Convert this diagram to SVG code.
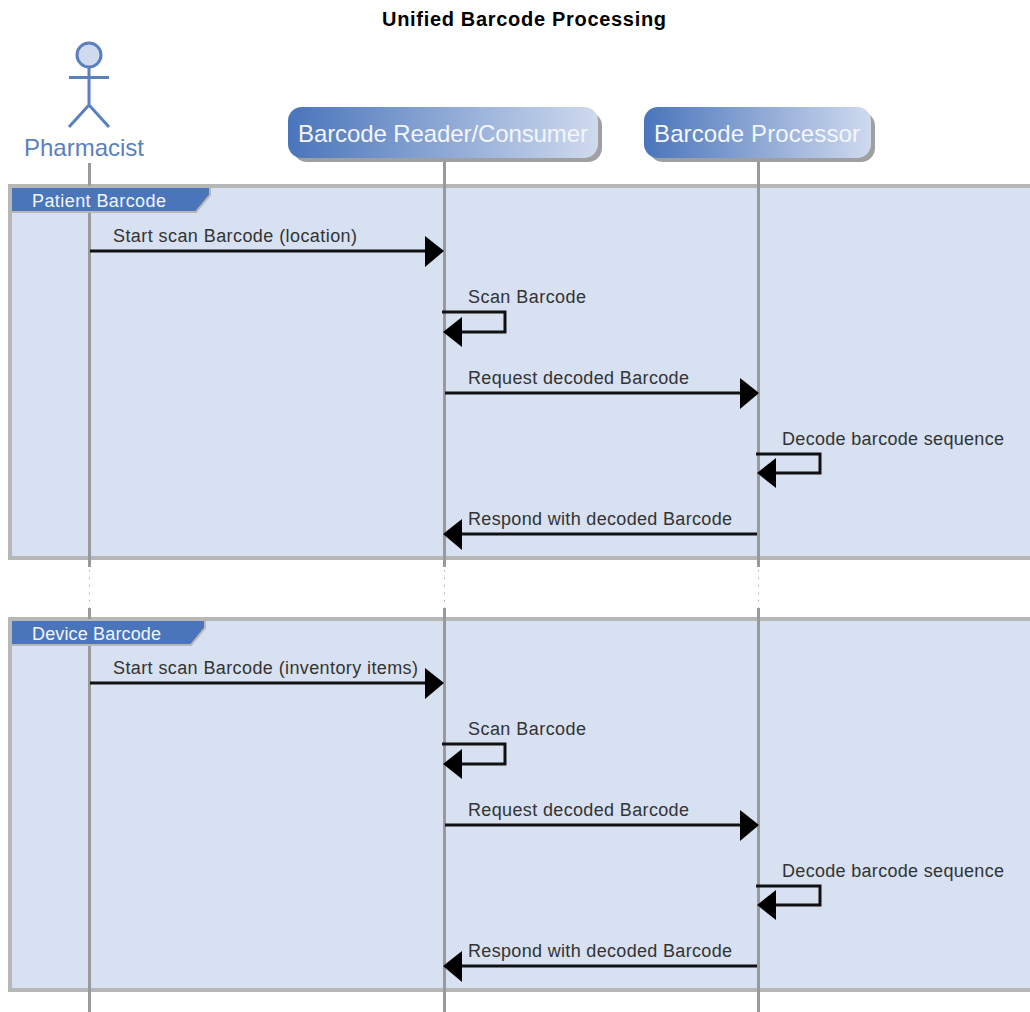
<svg xmlns="http://www.w3.org/2000/svg" width="1030" height="1012" viewBox="0 0 1030 1012">
<style>
text{font-family:"Liberation Sans",Arial,sans-serif}
.t{font-size:18px;fill:#333}
.fl{font-size:18px;fill:#f2f5fb}
.pl{font-size:24px;fill:#f4f6fb}
.frame{fill:#d7e1f1;stroke:#b7b7b7;stroke-width:4}
.tab{fill:#4a75bb}
.tabedge{fill:none;stroke:#b7b7b7;stroke-width:2}
.life{stroke:#9a9a9a;stroke-width:3;fill:none}
.dot{stroke:#aaa;stroke-width:1;stroke-dasharray:1.5 6;fill:none}
.msg{stroke:#111;stroke-width:3;fill:none}
.head{fill:#000}
.shadow{fill:#a0a0a0}
</style>
<defs>
<linearGradient id="g" x1="0" x2="1" y1="0" y2="0"><stop offset="0" stop-color="#4a75bb"/><stop offset="1" stop-color="#cfdaee"/></linearGradient>
</defs>
<rect width="1030" height="1012" fill="#fff"/>
<text x="524" y="26" text-anchor="middle" font-weight="bold" font-size="20" fill="#000" textLength="284" lengthAdjust="spacing">Unified Barcode Processing</text>

<g id="frame-patient">
<rect class="frame" x="10" y="186" width="1030" height="372"/>
<path class="tab" d="M12 188H210V195L196 211H12Z"/>
<path class="tabedge" d="M210 188V195L196 212H12"/>
</g>
<g id="frame-device">
<rect class="frame" x="10" y="619" width="1030" height="371"/>
<path class="tab" d="M12 621H205V628L191 644H12Z"/>
<path class="tabedge" d="M205 621V628L191 645H12"/>
</g>

<g id="lifelines">
<path class="life" d="M89.500 163V186M89.500 213V567M89.500 608V619M89.500 646V1012"/>
<path class="life" d="M444.500 162V567M444.500 608V1012"/>
<path class="life" d="M758.500 162V567M758.500 608V1012"/>
<path class="dot" d="M89.500 570V608M444.500 570V608M758.500 570V608"/>
</g>

<g id="pharmacist">
<circle cx="89" cy="55" r="12" fill="#d0daee" stroke="#5a80c0" stroke-width="3"/>
<path d="M89 67V105M69 77.500H109M69 127L89 105L109 127" fill="none" stroke="#5a80c0" stroke-width="3"/>
<text x="84" y="156" text-anchor="middle" font-size="24" fill="#5a80c0" textLength="120" lengthAdjust="spacing">Pharmacist</text>
</g>
<g id="reader">
<rect class="shadow" x="293" y="112" width="309" height="50" rx="14"/>
<rect x="288" y="107" width="310" height="51" rx="14" fill="url(#g)"/>
<text class="pl" x="298" y="142" textLength="290" lengthAdjust="spacing">Barcode Reader/Consumer</text>
</g>
<g id="processor">
<rect class="shadow" x="649" y="112" width="226" height="50" rx="14"/>
<rect x="644" y="107" width="227" height="51" rx="14" fill="url(#g)"/>
<text class="pl" x="654" y="142" textLength="206" lengthAdjust="spacing">Barcode Processor</text>
</g>

<g id="frame-labels">
<text class="fl" x="32" y="207" textLength="134" lengthAdjust="spacing">Patient Barcode</text>
<text class="fl" x="32" y="640" textLength="129" lengthAdjust="spacing">Device Barcode</text>
</g>

<g id="connectors">
<path class="msg" d="M90 251H428"/><path class="head" d="M444 251L425 236V267Z"/>
<path class="msg" d="M442 312H505V332H460"/><path class="head" d="M443 332L462 317V347Z"/>
<path class="msg" d="M445 393H742"/><path class="head" d="M759 393L740 378V409Z"/>
<path class="msg" d="M756 454H820V473H775"/><path class="head" d="M757 473L776 458V488Z"/>
<path class="msg" d="M757 534H460"/><path class="head" d="M443 534L462 519V550Z"/>

<path class="msg" d="M90 683H428"/><path class="head" d="M444 683L425 668V699Z"/>
<path class="msg" d="M442 744H505V764H460"/><path class="head" d="M443 764L462 749V779Z"/>
<path class="msg" d="M445 825H742"/><path class="head" d="M759 825L740 810V841Z"/>
<path class="msg" d="M756 886H820V905H775"/><path class="head" d="M757 905L776 890V920Z"/>
<path class="msg" d="M757 966H460"/><path class="head" d="M443 966L462 951V982Z"/>
</g>

<g id="labels">
<text class="t" x="113" y="242" textLength="244" lengthAdjust="spacing">Start scan Barcode (location)</text>
<text class="t" x="468" y="303" textLength="118" lengthAdjust="spacing">Scan Barcode</text>
<text class="t" x="468" y="384" textLength="221" lengthAdjust="spacing">Request decoded Barcode</text>
<text class="t" x="782" y="445" textLength="222" lengthAdjust="spacing">Decode barcode sequence</text>
<text class="t" x="468" y="525" textLength="264" lengthAdjust="spacing">Respond with decoded Barcode</text>
<text class="t" x="113" y="674" textLength="305" lengthAdjust="spacing">Start scan Barcode (inventory items)</text>
<text class="t" x="468" y="735" textLength="118" lengthAdjust="spacing">Scan Barcode</text>
<text class="t" x="468" y="816" textLength="221" lengthAdjust="spacing">Request decoded Barcode</text>
<text class="t" x="782" y="877" textLength="222" lengthAdjust="spacing">Decode barcode sequence</text>
<text class="t" x="468" y="957" textLength="264" lengthAdjust="spacing">Respond with decoded Barcode</text>
</g>
</svg>
